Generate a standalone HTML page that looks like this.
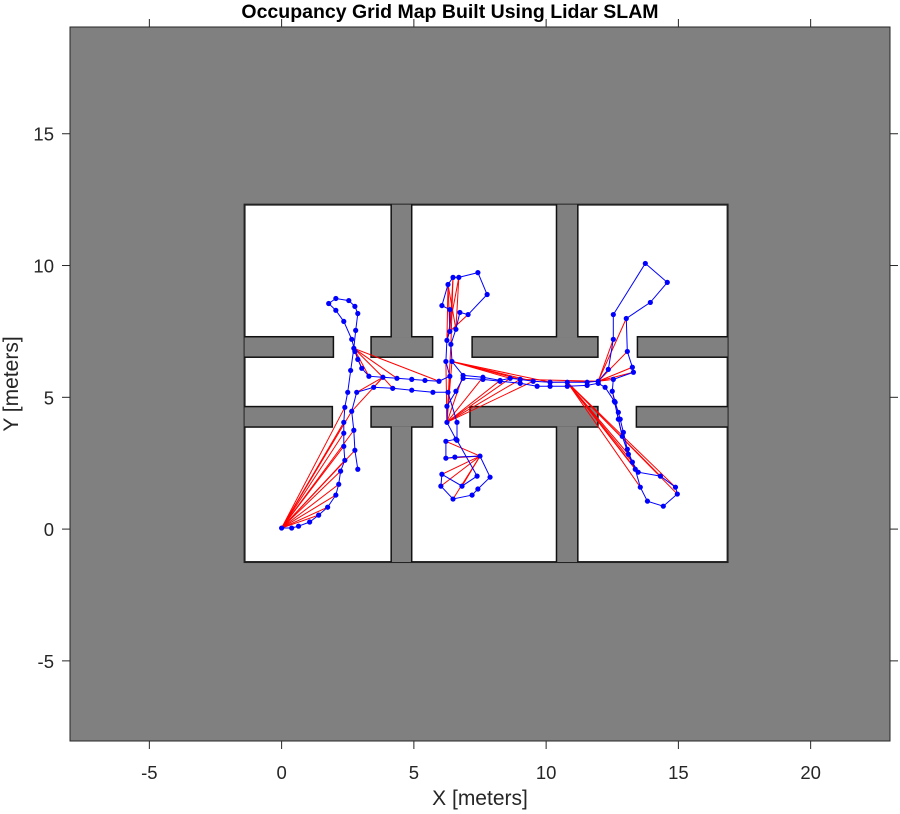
<!DOCTYPE html>
<html><head><meta charset="utf-8"><style>
body{margin:0;background:#fff;}
svg{display:block;font-family:"Liberation Sans",sans-serif;}
</style></head><body>
<svg id="chart" width="900" height="814" xmlns="http://www.w3.org/2000/svg"></svg>
<script>
// axis limits
const xLim = [-8, 23];
const yLim = [-8.04, 19.05];
const xTicks = [-5, 0, 5, 10, 15, 20];
const yTicks = [-5, 0, 5, 10, 15];
// map free-space and walls (data coordinates)
const freeArea = [-1.40, -1.25, 16.86, 12.31];
const wallBlocks = [
  [4.17, 7.27, 4.89, 12.6], [10.42, 7.27, 11.17, 12.6],
  [-1.7, 6.55, 1.93, 7.27], [3.41, 6.55, 5.68, 7.27], [7.23, 6.55, 11.93, 7.27], [13.48, 6.55, 17.1, 7.27],
  [-1.7, 3.90, 1.89, 4.62], [3.41, 3.90, 5.68, 4.62], [7.15, 3.90, 11.93, 4.62], [13.44, 3.90, 17.1, 4.62],
  [4.17, -1.5, 4.89, 3.90], [10.42, -1.5, 11.17, 3.90]
];
// pose graph node positions
const nodeX = [0.00,0.38,0.64,1.06,1.40,1.74,2.05,2.16,2.23,2.39,2.35,2.35,2.35,2.39,2.50,2.61,2.73,2.80,2.88,2.77,2.54,2.05,1.78,2.05,2.35,2.65,2.77,
2.88,3.03,3.30,3.83,4.36,4.92,5.42,5.95,6.36,
6.21,6.25,6.36,6.36,6.06,6.29,6.48,6.70,7.42,7.77,7.05,6.74,6.59,6.40,6.44,
6.86,7.61,8.26,8.64,9.02,9.51,10.15,10.80,11.55,11.97,
12.35,12.54,12.54,13.75,14.58,13.94,13.03,13.07,13.26,13.30,12.54,
12.50,12.61,12.73,12.80,12.92,13.07,13.26,13.48,14.32,14.89,14.96,14.43,13.83,13.56,13.37,13.11,12.88,12.73,12.58,12.23,11.97,
11.55,10.80,10.15,9.66,9.02,8.26,7.61,6.86,
6.59,6.25,6.25,6.59,6.21,6.21,6.55,7.50,7.88,7.42,7.20,6.48,6.02,6.06,6.82,7.39,6.63,6.63,6.29,
5.72,4.92,4.20,3.48,2.84,2.65,2.73,2.77,2.88];
const nodeY = [0.04,0.04,0.11,0.27,0.53,0.83,1.29,1.70,2.20,2.61,3.14,3.64,4.05,4.62,5.19,6.02,6.86,7.54,8.18,8.45,8.67,8.75,8.56,8.30,7.88,7.20,6.74,
6.44,6.10,5.80,5.76,5.72,5.68,5.64,5.61,5.80,
6.36,7.16,7.50,8.33,8.48,9.28,9.55,9.55,9.73,8.90,8.14,8.22,7.58,7.01,6.36,
5.83,5.76,5.64,5.72,5.68,5.61,5.57,5.57,5.57,5.61,
6.06,7.20,8.14,10.08,9.36,8.60,7.99,6.74,6.14,5.95,5.68,
5.23,4.81,4.43,4.17,3.67,3.03,2.54,2.16,2.01,1.59,1.33,0.87,1.06,1.59,2.27,2.84,3.52,4.17,4.85,5.38,5.53,
5.45,5.42,5.42,5.42,5.53,5.61,5.68,5.72,
5.23,4.66,4.05,3.41,3.33,2.69,2.73,2.77,1.97,1.52,1.29,1.14,1.63,2.08,1.63,2.01,3.37,4.05,5.19,
5.19,5.27,5.34,5.38,5.19,4.47,3.75,2.99,2.27];
// loop closures: from-node / to-node indices
const loopFrom = [0,0,0,0,0,0,0,0,0,0,0,0,0,
16,16,16,16,16,30,30,30,30,
41,41,41,42,42,43,43,46,
103,103,103,103,103,103,103,103,103,103,
50,50,50,50,
108,108,108,108,108,108,108,
60,60,60,60,60,60,60,60,
58,58,58,58,58,58,58,58,72];
const loopTo = [4,5,6,7,8,9,10,11,12,13,125,126,127,
28,29,30,31,34,122,123,124,125,
37,38,48,38,49,48,37,38,
51,52,53,54,55,56,35,36,50,49,
54,55,56,57,
106,107,113,114,112,115,105,
62,67,68,69,70,71,57,55,
78,79,80,81,82,86,87,85,88];

const svg = document.getElementById('chart');
const NS = 'http://www.w3.org/2000/svg';
const L = 70, R = 890, T = 27, B = 741;
const sx = v => L + (v - xLim[0]) / (xLim[1] - xLim[0]) * (R - L);
const sy = v => B - (v - yLim[0]) / (yLim[1] - yLim[0]) * (B - T);
function mk(tag, attrs, parent) {
  const e = document.createElementNS(NS, tag);
  for (const k in attrs) e.setAttribute(k, attrs[k]);
  (parent || svg).appendChild(e);
  return e;
}
const clip = mk('clipPath', {id: 'pc'});
mk('rect', {x: L, y: T, width: R - L, height: B - T}, clip);
const fclip = mk('clipPath', {id: 'fc'});
mk('rect', {x: sx(freeArea[0]), y: sy(freeArea[3]), width: sx(freeArea[2]) - sx(freeArea[0]), height: sy(freeArea[1]) - sy(freeArea[3])}, fclip);

const bg = mk('rect', {x: L, y: T, width: R - L, height: B - T, fill: '#808080'});



const mapG = mk('g', {'clip-path': 'url(#pc)'});


const fr = mk('rect', {x: sx(freeArea[0]), y: sy(freeArea[3]), width: sx(freeArea[2]) - sx(freeArea[0]), height: sy(freeArea[1]) - sy(freeArea[3]), fill: '#fff', stroke: '#222', 'stroke-width': 2}, mapG);


const wallG = mk('g', {'clip-path': 'url(#fc)'}, mapG);
wallBlocks.forEach(w => {
  const r = mk('rect', {x: sx(w[0]), y: sy(w[3]), width: sx(w[2]) - sx(w[0]), height: sy(w[1]) - sy(w[3]), fill: '#111', stroke: '#111', 'stroke-width': 3}, wallG);
  
  
});
wallBlocks.forEach(w => {
  const r = mk('rect', {x: sx(w[0]), y: sy(w[3]), width: sx(w[2]) - sx(w[0]), height: sy(w[1]) - sy(w[3]), fill: '#808080'}, wallG);
  
  
});

const graphG = mk('g', {'clip-path': 'url(#pc)'});


loopFrom.forEach((a, k) => {
  const b = loopTo[k];
  const l = mk('line', {x1: sx(nodeX[a]), y1: sy(nodeY[a]), x2: sx(nodeX[b]), y2: sy(nodeY[b]), stroke: '#f00', 'stroke-width': 1}, graphG);
  
  
});
const pts = nodeX.map((x, i) => sx(x).toFixed(1) + ',' + sy(nodeY[i]).toFixed(1)).join(' ');
const pl = mk('polyline', {points: pts, fill: 'none', stroke: '#00f', 'stroke-width': 1}, graphG);


nodeX.forEach((x, i) => {
  const c = mk('circle', {cx: sx(x), cy: sy(nodeY[i]), r: 2.6, fill: '#00f'}, graphG);
  
  
});

const frame = mk('rect', {x: L, y: T, width: R - L, height: B - T, fill: 'none', stroke: '#262626', 'stroke-width': 1});


xTicks.forEach(t => {
  const X = sx(t);
  mk('line', {x1: X, y1: B, x2: X, y2: B + 8, stroke: '#262626'});
  mk('line', {x1: X, y1: T, x2: X, y2: T - 8, stroke: '#262626'});
  const tx = mk('text', {x: X, y: B + 38, 'text-anchor': 'middle', 'font-size': 18.5, fill: '#262626'});
  tx.textContent = t;
  
  
});
yTicks.forEach(t => {
  const Y = sy(t);
  mk('line', {x1: L, y1: Y, x2: L - 8, y2: Y, stroke: '#262626'});
  mk('line', {x1: R, y1: Y, x2: R + 8, y2: Y, stroke: '#262626'});
  const ty = mk('text', {x: L - 16, y: Y + 7, 'text-anchor': 'end', 'font-size': 18.5, fill: '#262626'});
  ty.textContent = t;
  
  
});
</script>
<div style="position:absolute;left:0;top:0;width:900px;height:814px;pointer-events:none;font-family:'Liberation Sans',sans-serif;color:#000;">
  <div style="position:absolute;left:0;width:900px;top:0px;text-align:center;font-weight:bold;font-size:19.5px;line-height:24px;">Occupancy Grid Map Built Using Lidar SLAM</div>
  <div style="position:absolute;left:70px;width:820px;top:786px;text-align:center;font-size:21px;line-height:26px;color:#262626;">X [meters]</div>
  <div style="position:absolute;left:-50px;top:371px;width:124px;text-align:center;font-size:21px;line-height:26px;color:#262626;transform:rotate(-90deg);">Y [meters]</div>
</div>
</body></html>
